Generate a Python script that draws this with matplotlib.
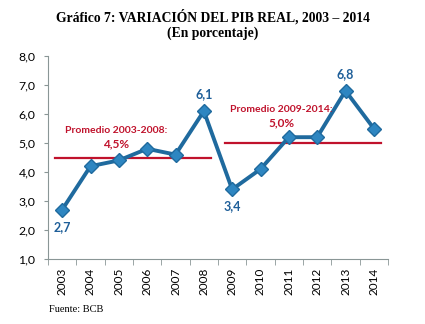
import matplotlib
matplotlib.use("Agg")
import matplotlib.pyplot as plt

# ---- data ----
years = ["2003", "2004", "2005", "2006", "2007", "2008",
         "2009", "2010", "2011", "2012", "2013", "2014"]
growth = [2.7, 4.2, 4.4, 4.8, 4.6, 6.1, 3.4, 4.1, 5.2, 5.2, 6.8, 5.5]
avg_values = [4.5, 5.0]
avg_titles = ["Promedio 2003-2008:", "Promedio 2009-2014:"]
avg_texts = ["4,5%", "5,0%"]
yticks = [1, 2, 3, 4, 5, 6, 7, 8]

# ---- palette ----
LINE = "#1F6A9E"
MARK = "#2E86C1"
LABEL = "#1F5F99"
RED = "#C0122C"
AXIS = "#8A9696"
SANS = ["Lato", "DejaVu Sans"]
SERIF = ["Liberation Serif", "DejaVu Serif"]

fig = plt.figure(figsize=(4.25, 3.24), dpi=100)
ax = fig.add_axes([48 / 425, 1 - 259 / 324, 340 / 425, 203 / 324])

x = list(range(len(years)))
ax.plot(x, growth, color=LINE, lw=2.8, marker="D", ms=7,
        mfc=MARK, mec=LINE, mew=1.0, zorder=3)

# period averages
ax.plot([-0.25, 5.25], [avg_values[0]] * 2, color=RED, lw=1.6, zorder=2)
ax.plot([5.75, 11.25], [avg_values[1]] * 2, color=RED, lw=1.6, zorder=2)
for cx, ty, vy, t, v in [(1.9, 5.44, 4.97, avg_titles[0], avg_texts[0]),
                         (7.75, 6.15, 5.68, avg_titles[1], avg_texts[1])]:
    ax.text(cx, ty, t, color=RED, fontsize=7.5, fontweight="bold",
            ha="center", va="center", family=SANS)
    ax.text(cx, vy, v, color=RED, fontsize=8.5, fontweight="bold",
            ha="center", va="center", family=SANS)

# value labels
for i, off in [(0, -1), (5, 1), (6, -1), (10, 1)]:
    txt = f"{growth[i]:.1f}".replace(".", ",")
    ax.annotate(txt, (i, growth[i]), xytext=(0, 8 * off), textcoords="offset points",
                ha="center", va="bottom" if off > 0 else "top",
                color=LABEL, fontsize=9, fontweight="bold", family=SANS)

ax.set_xlim(-0.5, len(years) - 0.5)
ax.set_ylim(1, 8)
ax.set_yticks(yticks)
ax.set_yticklabels([f"{v:.1f}".replace(".", ",") for v in yticks],
                   fontsize=8.8, family=SANS)
ax.set_xticks(x)
ax.set_xticklabels(years, rotation=90, fontsize=8.5, family=SANS)
ax.set_xticks([i - 0.5 for i in range(len(years) + 1)], minor=True)
ax.tick_params(axis="x", which="major", length=0, pad=6)
ax.tick_params(axis="x", which="minor", length=4, color=AXIS)
ax.tick_params(axis="y", length=3, color=AXIS, pad=6)

for s in ["top", "right"]:
    ax.spines[s].set_visible(False)
for s in ["left", "bottom"]:
    ax.spines[s].set_color(AXIS)

fig.text(0.5, 1 - 17 / 324, "Gráfico 7: VARIACIÓN DEL PIB REAL, 2003 – 2014",
         ha="center", va="center", fontsize=9.8, fontweight="bold", family=SERIF)
fig.text(0.5, 1 - 33 / 324, "(En porcentaje)", ha="center", va="center",
         fontsize=9.8, fontweight="bold", family=SERIF)
fig.text(49 / 425, 1 - 310 / 324, "Fuente: BCB", ha="left", va="center",
         fontsize=7.5, family=SERIF)

fig.savefig("out.png", dpi=100, facecolor="white")
